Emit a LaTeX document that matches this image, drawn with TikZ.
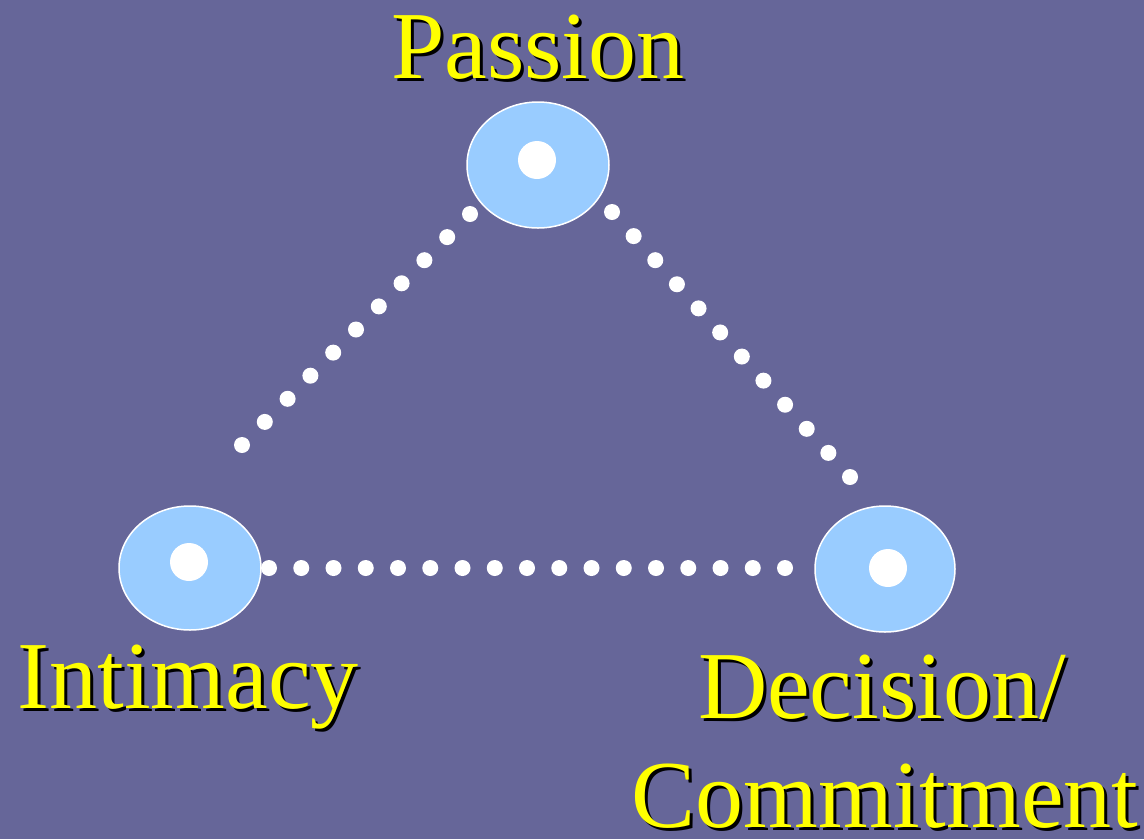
\documentclass[tikz,border=0pt]{standalone}
\usepackage{fontspec}
\setmainfont{Liberation Serif}
\usetikzlibrary{calc}
\definecolor{bgc}{HTML}{666699}
\definecolor{ellc}{HTML}{99CCFF}
\definecolor{txty}{HTML}{FFFF00}
\newcommand{\shadowed}[1]{\makebox[0pt][l]{\hspace{3pt}\raisebox{-3pt}[0pt][0pt]{\color{black}#1}}#1}
\tikzset{
  lbl/.style={anchor=base, inner sep=0pt, text=txty, font=\fontsize{96}{110}\selectfont},
  vertex/.style={fill=ellc, draw=white, line width=1.5pt},
  hub/.style={fill=white},
  dotc/.style={fill=white}
}
\begin{document}
\begin{tikzpicture}[x=1pt,y=-1pt]
\fill[bgc] (0,0) rectangle (1144,839);
\useasboundingbox (0,0) rectangle (1144,839);
% ellipses
\filldraw[vertex] (538,165) ellipse [x radius=71, y radius=63];
\filldraw[vertex] (190,568) ellipse [x radius=71, y radius=62];
\filldraw[vertex] (885,569) ellipse [x radius=70, y radius=63];
\fill[hub] (537,160) circle (19);
\fill[hub] (189,562) circle (19);
\fill[hub] (888,568) circle (19);
% dotted connectors
\coordinate (l1) at (242,445);
\coordinate (l2) at (470,214);
\coordinate (r1) at (612,212);
\coordinate (r2) at (850,477);
\coordinate (b1) at (269,568);
\coordinate (b2) at (785,568);
\foreach \i in {0,...,10} \fill[dotc] ($(l1)!\i/10!(l2)$) circle (8);
\foreach \i in {0,...,11} \fill[dotc] ($(r1)!\i/11!(r2)$) circle (8);
\foreach \i in {0,...,16} \fill[dotc] ($(b1)!\i/16!(b2)$) circle (8);
% labels
\node[lbl] (passion) at (538,78) {\shadowed{Passion}};
\node[lbl] (intimacy) at (188,708) {\shadowed{Intimacy}};
\node[lbl] (decision) at (882,718) {\shadowed{Decision/}};
\node[lbl] (commit) at (885,827) {\shadowed{Commitment}};
\end{tikzpicture}
\end{document}
